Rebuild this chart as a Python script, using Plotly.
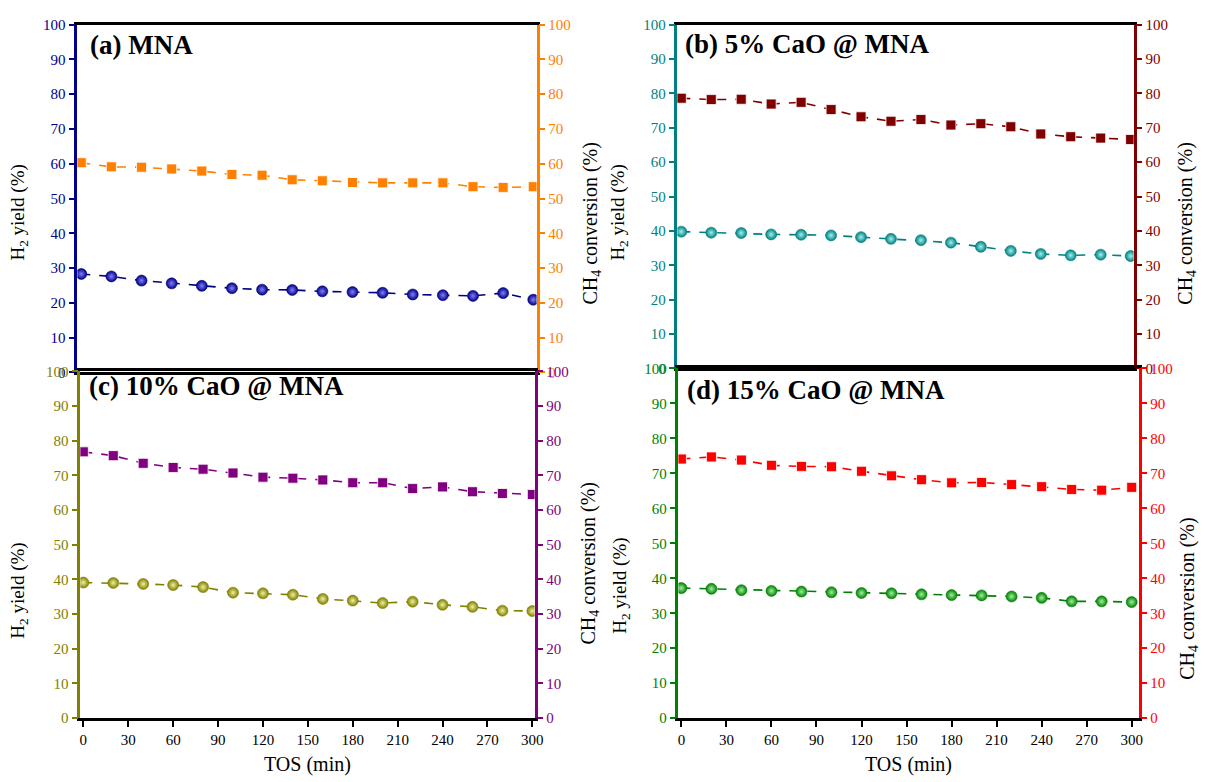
import plotly.graph_objects as go

# Time on stream (min)
tos = [0, 20, 40, 60, 80, 100, 120, 140, 160, 180, 200, 220, 240, 260, 280, 300]

# (a) MNA
h2_mna = [28.3, 27.6, 26.4, 25.6, 24.9, 24.2, 23.8, 23.7, 23.3, 23.1, 22.9, 22.4, 22.2, 22.0, 22.8, 20.9]
ch4_mna = [60.3, 59.1, 59.0, 58.5, 57.9, 56.9, 56.7, 55.4, 55.1, 54.6, 54.5, 54.5, 54.5, 53.4, 53.2, 53.4]

# (b) 5% CaO @ MNA
h2_5 = [39.8, 39.5, 39.4, 39.0, 38.9, 38.7, 38.2, 37.7, 37.3, 36.6, 35.4, 34.2, 33.3, 32.9, 33.1, 32.7]
ch4_5 = [78.6, 78.2, 78.3, 76.9, 77.4, 75.3, 73.2, 71.9, 72.4, 70.8, 71.2, 70.3, 68.2, 67.4, 67.0, 66.6]

# (c) 10% CaO @ MNA
h2_10 = [39.1, 39.0, 38.7, 38.4, 37.8, 36.2, 36.0, 35.6, 34.4, 33.9, 33.2, 33.6, 32.7, 32.1, 31.0, 30.9]
ch4_10 = [76.8, 75.7, 73.5, 72.3, 71.8, 70.7, 69.5, 69.2, 68.7, 67.9, 67.9, 66.2, 66.7, 65.3, 64.8, 64.5]

# (d) 15% CaO @ MNA
h2_15 = [37.2, 37.0, 36.6, 36.4, 36.2, 36.0, 35.8, 35.7, 35.4, 35.2, 35.1, 34.8, 34.4, 33.4, 33.4, 33.2]
ch4_15 = [74.1, 74.7, 73.8, 72.3, 72.0, 71.9, 70.6, 69.3, 68.2, 67.3, 67.4, 66.8, 66.2, 65.4, 65.2, 66.0]

x_ticks = [0, 30, 60, 90, 120, 150, 180, 210, 240, 270, 300]
y_ticks = [0, 10, 20, 30, 40, 50, 60, 70, 80, 90, 100]

W, H = 1220, 782
FONT = "Liberation Serif, Times New Roman, serif"


def px_x(a, b):
    return [a / W, b / W]


def px_y(top, bottom):
    return [1 - bottom / H, 1 - top / H]


panels = [
    dict(tag="(a) MNA", h2=h2_mna, ch4=ch4_mna, lc="#00008B", rc="#FF8000",
         hc="#000080", cc="#FF8000", hl="#8080ff",
         xd=px_x(77, 540), yd=px_y(17, 372), xr=[-2.6, 302.2], bottom=False,
         tag_xy=(88, 38), ly=(18, 209), ry=(595, 220)),
    dict(tag="(b) 5% CaO @ MNA", h2=h2_5, ch4=ch4_5, lc="#008080", rc="#800000",
         hc="#008080", cc="#800000", hl="#a0f0f0",
         xd=px_x(682, 1142), yd=px_y(17, 368), xr=[-2.6, 302.0], bottom=False,
         tag_xy=(688, 37), ly=(623, 209), ry=(1195, 220)),
    dict(tag="(c) 10% CaO @ MNA", h2=h2_10, ch4=ch4_10, lc="#808000", rc="#800080",
         hc="#808000", cc="#800080", hl="#f0f0a0",
         xd=px_x(80, 538), yd=px_y(371, 725), xr=[-2.0, 301.5], bottom=True,
         tag_xy=(87, 386), ly=(18, 595), ry=(593, 567)),
    dict(tag="(d) 15% CaO @ MNA", h2=h2_15, ch4=ch4_15, lc="#008000", rc="#FF0000",
         hc="#008000", cc="#FF0000", hl="#a0f0a0",
         xd=px_x(683, 1147), yd=px_y(368, 725), xr=[-2.0, 304.6], bottom=True,
         tag_xy=(690, 390), ly=(625, 590), ry=(1197, 603)),
]

fig = go.Figure()
layout = dict(
    width=W, height=H, margin=dict(l=0, r=0, t=0, b=0),
    paper_bgcolor="white", plot_bgcolor="rgba(0,0,0,0)",
    showlegend=False, font=dict(family=FONT, size=14, color="black"),
)
annotations = []

for i, p in enumerate(panels):
    xn = i + 1
    yl = 2 * i + 1
    yr = 2 * i + 2
    xname = "x" if xn == 1 else f"x{xn}"
    ylname = "y" if yl == 1 else f"y{yl}"
    yrname = f"y{yr}"

    # CH4 conversion on the right axis
    fig.add_trace(go.Scatter(
        x=tos, y=p["ch4"], xaxis=xname, yaxis=yrname, mode="lines+markers",
        line=dict(color=p["cc"], width=1.6, dash="dash"),
        marker=dict(symbol="square", size=10, color=p["cc"],
                    line=dict(width=0.8, color="white")),
    ))
    # H2 yield on the left axis
    fig.add_trace(go.Scatter(
        x=tos, y=p["h2"], xaxis=xname, yaxis=ylname, mode="lines+markers",
        line=dict(color=p["hc"], width=1.6, dash="dash"),
        marker=dict(symbol="circle", size=11, color=p["hc"],
                    gradient=dict(type="radial", color=p["hl"]),
                    line=dict(width=0.6, color=p["hc"])),
    ))

    xkey = "xaxis" if xn == 1 else f"xaxis{xn}"
    layout[xkey] = dict(
        domain=p["xd"], range=p["xr"], anchor=ylname,
        showline=True, linecolor="black", linewidth=2.5, mirror=True,
        ticks="outside" if p["bottom"] else "", ticklen=6, tickwidth=2,
        tickcolor="black", tickvals=x_ticks, showticklabels=p["bottom"],
        tickfont=dict(family=FONT, size=15, color="black"),
        showgrid=False, zeroline=False, fixedrange=True,
    )
    ylkey = "yaxis" if yl == 1 else f"yaxis{yl}"
    layout[ylkey] = dict(
        domain=p["yd"], range=[0, 100], anchor=xname, side="left",
        showline=True, linecolor=p["lc"], linewidth=2.5,
        ticks="outside", ticklen=6, tickwidth=2, tickcolor=p["lc"],
        tickvals=y_ticks, tickfont=dict(family=FONT, size=15, color=p["lc"]),
        showgrid=False, zeroline=False, fixedrange=True,
    )
    layout[f"yaxis{yr}"] = dict(
        range=[0, 100], anchor=xname, overlaying=ylname, side="right",
        showline=True, linecolor=p["rc"], linewidth=2.5,
        ticks="outside", ticklen=6, tickwidth=2, tickcolor=p["rc"],
        tickvals=y_ticks, tickfont=dict(family=FONT, size=15, color=p["rc"]),
        showgrid=False, zeroline=False, fixedrange=True,
    )

    tx, ty = p["tag_xy"]
    annotations.append(dict(
        text=f"<b>{p['tag']}</b>", x=tx / W, y=1 - ty / H, xref="paper", yref="paper",
        xanchor="left", yanchor="middle", showarrow=False,
        font=dict(family=FONT, size=27, color="black"),
    ))
    lx, ly = p["ly"]
    annotations.append(dict(
        text="H<sub>2</sub> yield (%)", x=lx / W, y=1 - ly / H, xref="paper", yref="paper",
        xanchor="center", yanchor="middle", textangle=-90, showarrow=False,
        font=dict(family=FONT, size=19, color="black"),
    ))
    rx, ry = p["ry"]
    annotations.append(dict(
        text="CH<sub>4</sub> conversion (%)", x=rx / W, y=1 - ry / H, xref="paper", yref="paper",
        xanchor="center", yanchor="middle", textangle=-90, showarrow=False,
        font=dict(family=FONT, size=20, color="black"),
    ))
    if p["bottom"]:
        cx = (p["xd"][0] + p["xd"][1]) / 2
        annotations.append(dict(
            text="TOS (min)", x=cx, y=1 - 772 / H, xref="paper", yref="paper",
            xanchor="center", yanchor="middle", showarrow=False,
            font=dict(family=FONT, size=20, color="black"),
        ))

layout["annotations"] = annotations
fig.update_layout(**layout)
fig.write_html("out.html")
